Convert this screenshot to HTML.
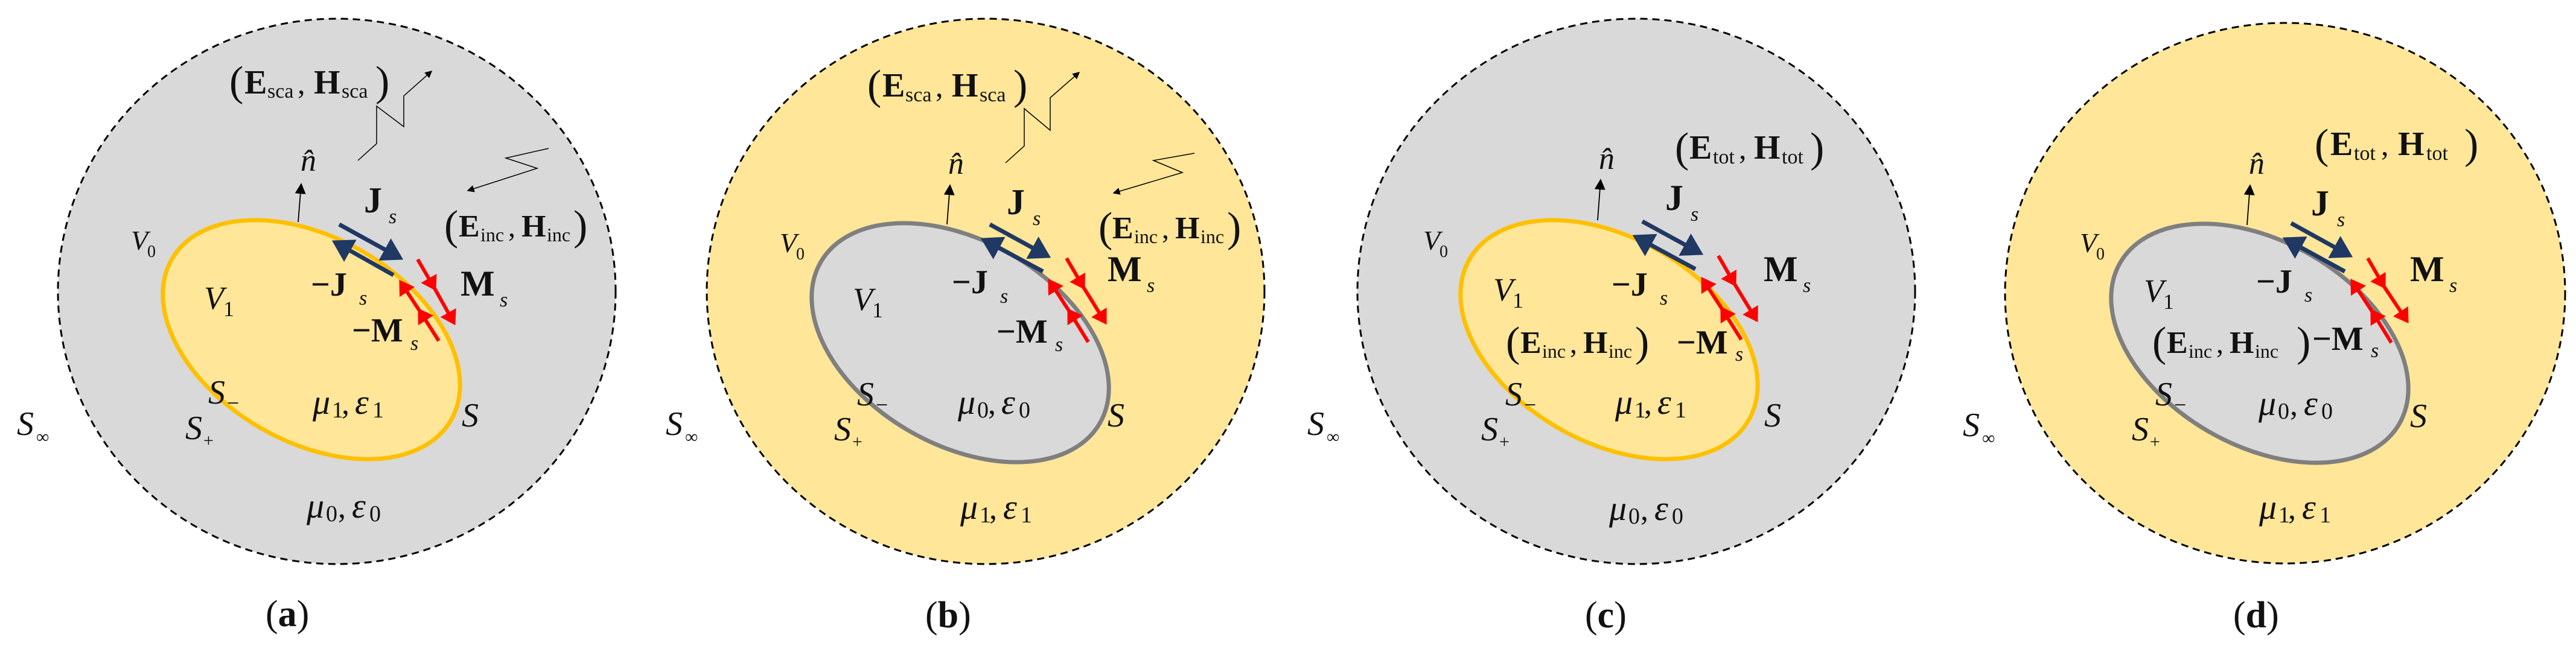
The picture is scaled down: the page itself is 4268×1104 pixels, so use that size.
<!DOCTYPE html>
<html><head><meta charset="utf-8"><style>
html,body{margin:0;padding:0;background:#fff;}
svg{display:block;}
text{font-family:"Liberation Serif",serif;fill:#111;}
.b{font-weight:bold;}
.i{font-style:italic;}
</style></head><body>
<svg width="4268" height="1104" viewBox="0 0 4268 1104" xmlns="http://www.w3.org/2000/svg">
<defs>
<marker id="hb" markerWidth="6" markerHeight="6" refX="4" refY="3" orient="auto" markerUnits="strokeWidth"><path d="M0,0 L5,3 L0,6 Z" fill="#1f3864"/></marker>
<marker id="hr" markerWidth="5" markerHeight="5" refX="3.2" refY="2.5" orient="auto" markerUnits="strokeWidth"><path d="M0,0 L4,2.5 L0,5 Z" fill="#ff0000"/></marker>
<marker id="hk" markerWidth="8" markerHeight="8" refX="7" refY="4" orient="auto" markerUnits="strokeWidth"><path d="M0,0 L8,4 L0,8 Z" fill="#000"/></marker>
<marker id="hn" markerWidth="10" markerHeight="10" refX="9" refY="5" orient="auto" markerUnits="strokeWidth"><path d="M0,0 L10,5 L0,10 Z" fill="#000"/></marker>
</defs>

<!-- ===== Panel a ===== -->
<g transform="translate(0,0)">
<ellipse cx="558" cy="483" rx="462" ry="452" fill="#d9d9d9" stroke="#000" stroke-width="3" stroke-dasharray="12,8"/>
<ellipse cx="516" cy="563" rx="267" ry="169" transform="rotate(30 516 563)" fill="#ffe699" stroke="#ffc000" stroke-width="7"/>
<line x1="494" y1="368" x2="499" y2="305" stroke="#000" stroke-width="1.8" marker-end="url(#hn)"/>
<polyline points="593,266 624,238 624,176 669,210 669,159 715,118" fill="none" stroke="#000" stroke-width="1.5" marker-end="url(#hk)"/>
<polyline points="909,246 838,262 890,279 775,316" fill="none" stroke="#000" stroke-width="1.5" marker-end="url(#hk)"/>
<line x1="562" y1="372" x2="662" y2="427" stroke="#1f3864" stroke-width="7" marker-end="url(#hb)"/>
<line x1="652" y1="456" x2="556" y2="402" stroke="#1f3864" stroke-width="7" marker-end="url(#hb)"/>
<polyline points="692,430 720,478 752,535" fill="none" stroke="#ff0000" stroke-width="6" marker-mid="url(#hr)" marker-end="url(#hr)"/>
<polyline points="727,565 695,515 664,468" fill="none" stroke="#ff0000" stroke-width="6" marker-mid="url(#hr)" marker-end="url(#hr)"/>
<text x="380" y="158" font-size="70">(</text><text x="405" y="155" font-size="56" class="b">E</text><text x="443" y="162" font-size="34">sca</text><text x="493" y="155" font-size="50">,</text><text x="520" y="155" font-size="56" class="b">H</text><text x="566" y="162" font-size="34">sca</text><text x="622" y="158" font-size="70">)</text>
<text x="498" y="283" font-size="52" class="i">n̂</text>
<text x="603" y="352" font-size="60" class="b">J</text><text x="644" y="370" font-size="34" class="i">s</text>
<text x="736" y="397" font-size="70">(</text><text x="760" y="392" font-size="52" class="b">E</text><text x="796" y="400" font-size="32">inc</text><text x="842" y="392" font-size="48">,</text><text x="864" y="392" font-size="52" class="b">H</text><text x="906" y="400" font-size="32">inc</text><text x="950" y="397" font-size="70">)</text>
<text x="217" y="414" font-size="46" class="i">V</text><text x="244" y="426" font-size="28">0</text>
<text x="338" y="512" font-size="54" class="i">V</text><text x="370" y="524" font-size="36">1</text>
<text x="515" y="490" font-size="56" class="b">−J</text><text x="595" y="505" font-size="34" class="i">s</text>
<text x="763" y="490" font-size="60" class="b">M</text><text x="828" y="508" font-size="34" class="i">s</text>
<text x="583" y="566" font-size="56" class="b">−M</text><text x="680" y="580" font-size="34" class="i">s</text>
<text x="345" y="669" font-size="56" class="i">S</text><text x="376" y="680" font-size="36">−</text>
<text x="518" y="686" font-size="58" class="i">μ</text><text x="550" y="692" font-size="38">1</text><text x="566" y="686" font-size="52">,</text><text x="588" y="686" font-size="58" class="i">ε</text><text x="617" y="692" font-size="38">1</text>
<text x="765" y="707" font-size="56" class="i">S</text>
<text x="307" y="728" font-size="56" class="i">S</text><text x="337" y="740" font-size="30">+</text>
<text x="28" y="721" font-size="56" class="i">S</text><text x="60" y="734" font-size="30">∞</text>
<text x="508" y="858" font-size="58" class="i">μ</text><text x="540" y="864" font-size="38">0</text><text x="560" y="858" font-size="52">,</text><text x="583" y="858" font-size="58" class="i">ε</text><text x="612" y="864" font-size="38">0</text>
<text x="440" y="1038" font-size="62">(<tspan class="b">a</tspan>)</text>
</g>

<!-- ===== Panel b ===== -->
<g transform="translate(1075,0)">
<ellipse cx="558" cy="483" rx="462" ry="452" fill="#ffe699" stroke="#000" stroke-width="3" stroke-dasharray="12,8"/>
<ellipse cx="516" cy="568" rx="267" ry="169" transform="rotate(30 516 568)" fill="#d9d9d9" stroke="#7f7f7f" stroke-width="7"/>
<line x1="494" y1="372" x2="499" y2="307" stroke="#000" stroke-width="1.8" marker-end="url(#hn)"/>
<polyline points="591,270 622,242 622,180 665,216 665,162 713,120" fill="none" stroke="#000" stroke-width="1.5" marker-end="url(#hk)"/>
<polyline points="904,254 836,266 884,286 770,320" fill="none" stroke="#000" stroke-width="1.5" marker-end="url(#hk)"/>
<line x1="565" y1="372" x2="660" y2="424" stroke="#1f3864" stroke-width="7" marker-end="url(#hb)"/>
<line x1="653" y1="450" x2="556" y2="398" stroke="#1f3864" stroke-width="7" marker-end="url(#hb)"/>
<polyline points="692,428 720,476 756,534" fill="none" stroke="#ff0000" stroke-width="6" marker-mid="url(#hr)" marker-end="url(#hr)"/>
<polyline points="728,567 696,515 664,466" fill="none" stroke="#ff0000" stroke-width="6" marker-mid="url(#hr)" marker-end="url(#hr)"/>
<text x="362" y="164" font-size="70">(</text><text x="387" y="160" font-size="56" class="b">E</text><text x="425" y="168" font-size="34">sca</text><text x="475" y="160" font-size="50">,</text><text x="502" y="160" font-size="56" class="b">H</text><text x="548" y="168" font-size="34">sca</text><text x="604" y="164" font-size="70">)</text>
<text x="496" y="288" font-size="52" class="i">n̂</text>
<text x="593" y="355" font-size="60" class="b">J</text><text x="636" y="373" font-size="34" class="i">s</text>
<text x="745" y="400" font-size="70">(</text><text x="768" y="395" font-size="52" class="b">E</text><text x="804" y="403" font-size="32">inc</text><text x="850" y="395" font-size="48">,</text><text x="872" y="395" font-size="52" class="b">H</text><text x="914" y="403" font-size="32">inc</text><text x="958" y="400" font-size="70">)</text>
<text x="217" y="418" font-size="46" class="i">V</text><text x="244" y="430" font-size="28">0</text>
<text x="338" y="514" font-size="54" class="i">V</text><text x="370" y="526" font-size="36">1</text>
<text x="502" y="486" font-size="56" class="b">−J</text><text x="582" y="502" font-size="34" class="i">s</text>
<text x="760" y="466" font-size="60" class="b">M</text><text x="825" y="484" font-size="34" class="i">s</text>
<text x="576" y="568" font-size="56" class="b">−M</text><text x="673" y="582" font-size="34" class="i">s</text>
<text x="345" y="672" font-size="56" class="i">S</text><text x="376" y="683" font-size="36">−</text>
<text x="512" y="686" font-size="58" class="i">μ</text><text x="544" y="692" font-size="38">0</text><text x="562" y="686" font-size="52">,</text><text x="584" y="686" font-size="58" class="i">ε</text><text x="613" y="692" font-size="38">0</text>
<text x="760" y="707" font-size="56" class="i">S</text>
<text x="307" y="730" font-size="56" class="i">S</text><text x="337" y="742" font-size="30">+</text>
<text x="28" y="721" font-size="56" class="i">S</text><text x="60" y="734" font-size="30">∞</text>
<text x="516" y="860" font-size="58" class="i">μ</text><text x="548" y="866" font-size="38">1</text><text x="564" y="860" font-size="52">,</text><text x="587" y="860" font-size="58" class="i">ε</text><text x="616" y="866" font-size="38">1</text>
<text x="458" y="1040" font-size="62">(<tspan class="b">b</tspan>)</text>
</g>

<!-- ===== Panel c ===== -->
<g transform="translate(2141,0)">
<ellipse cx="570" cy="483" rx="462" ry="452" fill="#d9d9d9" stroke="#000" stroke-width="3" stroke-dasharray="12,8"/>
<ellipse cx="525" cy="563" rx="267" ry="169" transform="rotate(30 525 563)" fill="#ffe699" stroke="#ffc000" stroke-width="7"/>
<line x1="506" y1="365" x2="511" y2="298" stroke="#000" stroke-width="1.8" marker-end="url(#hn)"/>
<line x1="580" y1="367" x2="675" y2="419" stroke="#1f3864" stroke-width="7" marker-end="url(#hb)"/>
<line x1="668" y1="446" x2="570" y2="393" stroke="#1f3864" stroke-width="7" marker-end="url(#hb)"/>
<polyline points="706,424 733,471 769,530" fill="none" stroke="#ff0000" stroke-width="6" marker-mid="url(#hr)" marker-end="url(#hr)"/>
<polyline points="744,563 712,512 680,463" fill="none" stroke="#ff0000" stroke-width="6" marker-mid="url(#hr)" marker-end="url(#hr)"/>
<text x="634" y="268" font-size="70">(</text><text x="658" y="263" font-size="56" class="b">E</text><text x="697" y="271" font-size="34">tot</text><text x="740" y="263" font-size="50">,</text><text x="765" y="263" font-size="56" class="b">H</text><text x="811" y="271" font-size="34">tot</text><text x="858" y="268" font-size="70">)</text>
<text x="508" y="280" font-size="52" class="i">n̂</text>
<text x="618" y="348" font-size="60" class="b">J</text><text x="660" y="366" font-size="34" class="i">s</text>
<text x="217" y="414" font-size="46" class="i">V</text><text x="244" y="426" font-size="28">0</text>
<text x="333" y="498" font-size="54" class="i">V</text><text x="365" y="510" font-size="36">1</text>
<text x="529" y="490" font-size="56" class="b">−J</text><text x="609" y="505" font-size="34" class="i">s</text>
<text x="781" y="466" font-size="60" class="b">M</text><text x="846" y="484" font-size="34" class="i">s</text>
<text x="354" y="590" font-size="70">(</text><text x="378" y="585" font-size="52" class="b">E</text><text x="414" y="593" font-size="32">inc</text><text x="460" y="585" font-size="48">,</text><text x="482" y="585" font-size="52" class="b">H</text><text x="524" y="593" font-size="32">inc</text><text x="568" y="590" font-size="70">)</text>
<text x="637" y="586" font-size="56" class="b">−M</text><text x="734" y="598" font-size="34" class="i">s</text>
<text x="353" y="672" font-size="56" class="i">S</text><text x="384" y="683" font-size="36">−</text>
<text x="535" y="686" font-size="58" class="i">μ</text><text x="567" y="692" font-size="38">1</text><text x="583" y="686" font-size="52">,</text><text x="605" y="686" font-size="58" class="i">ε</text><text x="634" y="692" font-size="38">1</text>
<text x="782" y="707" font-size="56" class="i">S</text>
<text x="313" y="730" font-size="56" class="i">S</text><text x="343" y="742" font-size="30">+</text>
<text x="25" y="721" font-size="56" class="i">S</text><text x="57" y="734" font-size="30">∞</text>
<text x="525" y="862" font-size="58" class="i">μ</text><text x="557" y="868" font-size="38">0</text><text x="577" y="862" font-size="52">,</text><text x="600" y="862" font-size="58" class="i">ε</text><text x="629" y="868" font-size="38">0</text>
<text x="485" y="1040" font-size="62">(<tspan class="b">c</tspan>)</text>
</g>

<!-- ===== Panel d ===== -->
<g transform="translate(3225,0)">
<ellipse cx="561" cy="486" rx="464" ry="448" fill="#ffe699" stroke="#000" stroke-width="3" stroke-dasharray="12,8"/>
<ellipse cx="519" cy="569" rx="267" ry="169" transform="rotate(30 519 569)" fill="#d9d9d9" stroke="#7f7f7f" stroke-width="7"/>
<line x1="498" y1="373" x2="503" y2="307" stroke="#000" stroke-width="1.8" marker-end="url(#hn)"/>
<line x1="571" y1="370" x2="667" y2="423" stroke="#1f3864" stroke-width="7" marker-end="url(#hb)"/>
<line x1="660" y1="450" x2="563" y2="397" stroke="#1f3864" stroke-width="7" marker-end="url(#hb)"/>
<polyline points="698,428 725,475 763,532" fill="none" stroke="#ff0000" stroke-width="6" marker-mid="url(#hr)" marker-end="url(#hr)"/>
<polyline points="737,568 705,516 672,466" fill="none" stroke="#ff0000" stroke-width="6" marker-mid="url(#hr)" marker-end="url(#hr)"/>
<text x="610" y="262" font-size="70">(</text><text x="636" y="257" font-size="56" class="b">E</text><text x="675" y="265" font-size="34">tot</text><text x="720" y="257" font-size="50">,</text><text x="748" y="257" font-size="56" class="b">H</text><text x="795" y="265" font-size="34">tot</text><text x="858" y="262" font-size="70">)</text>
<text x="501" y="288" font-size="52" class="i">n̂</text>
<text x="604" y="357" font-size="60" class="b">J</text><text x="647" y="375" font-size="34" class="i">s</text>
<text x="221" y="418" font-size="46" class="i">V</text><text x="248" y="430" font-size="28">0</text>
<text x="327" y="500" font-size="54" class="i">V</text><text x="359" y="512" font-size="36">1</text>
<text x="513" y="485" font-size="56" class="b">−J</text><text x="593" y="500" font-size="34" class="i">s</text>
<text x="768" y="466" font-size="60" class="b">M</text><text x="833" y="484" font-size="34" class="i">s</text>
<text x="341" y="590" font-size="70">(</text><text x="365" y="585" font-size="52" class="b">E</text><text x="401" y="593" font-size="32">inc</text><text x="447" y="585" font-size="48">,</text><text x="469" y="585" font-size="52" class="b">H</text><text x="511" y="593" font-size="32">inc</text><text x="580" y="590" font-size="70">)</text>
<text x="606" y="580" font-size="56" class="b">−M</text><text x="703" y="592" font-size="34" class="i">s</text>
<text x="346" y="672" font-size="56" class="i">S</text><text x="377" y="683" font-size="36">−</text>
<text x="517" y="688" font-size="58" class="i">μ</text><text x="549" y="694" font-size="38">0</text><text x="569" y="688" font-size="52">,</text><text x="592" y="688" font-size="58" class="i">ε</text><text x="621" y="694" font-size="38">0</text>
<text x="768" y="708" font-size="56" class="i">S</text>
<text x="307" y="730" font-size="56" class="i">S</text><text x="337" y="742" font-size="30">+</text>
<text x="27" y="723" font-size="56" class="i">S</text><text x="59" y="736" font-size="30">∞</text>
<text x="518" y="860" font-size="58" class="i">μ</text><text x="550" y="866" font-size="38">1</text><text x="566" y="860" font-size="52">,</text><text x="589" y="860" font-size="58" class="i">ε</text><text x="618" y="866" font-size="38">1</text>
<text x="475" y="1040" font-size="62">(<tspan class="b">d</tspan>)</text>
</g>
</svg>
</body></html>
